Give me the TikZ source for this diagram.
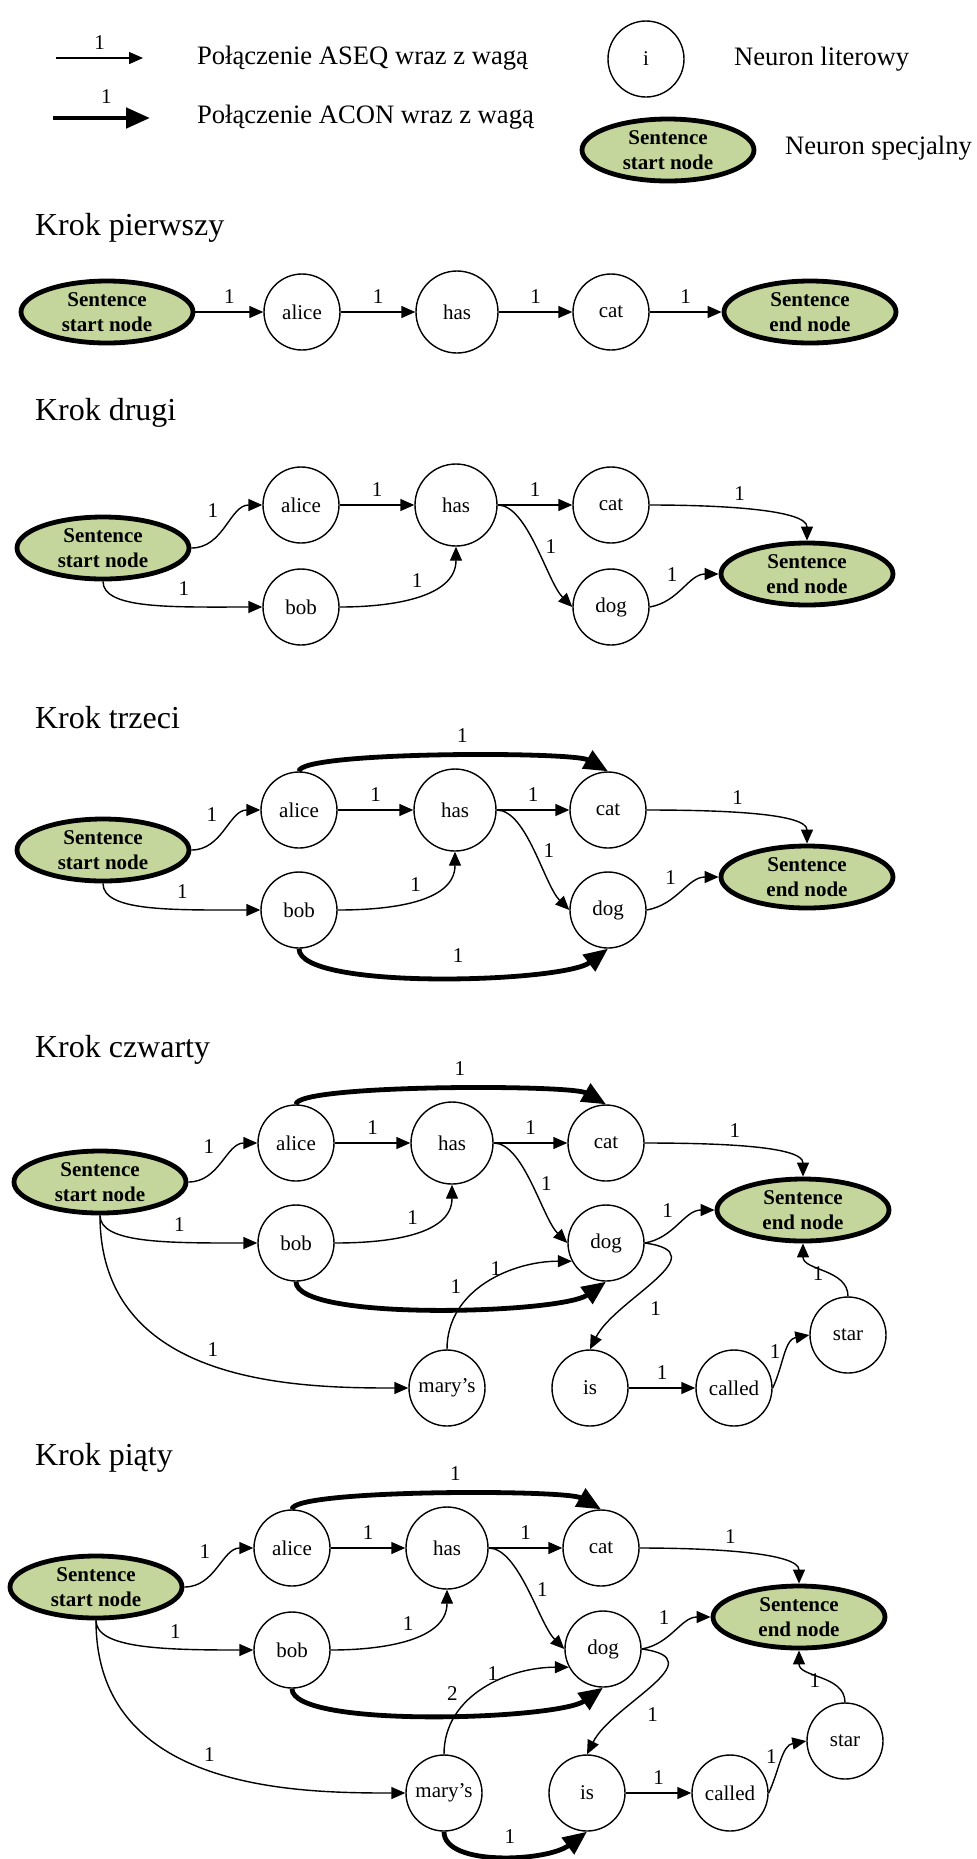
\documentclass[tikz,border=0pt]{standalone}
\usepackage{fontspec}
\setmainfont{Liberation Serif}
\usetikzlibrary{arrows.meta,shapes.geometric}
\definecolor{specfill}{RGB}{196,214,155}
\tikzset{
  neuron/.style={circle, draw, line width=0.7pt, minimum size=38pt, inner sep=0pt,
    font=\fontsize{10.5}{12}\selectfont},
  bigneuron/.style={neuron, minimum size=41pt},
  special/.style={ellipse, draw, line width=2.4pt, fill=specfill, minimum width=86pt,
    minimum height=31pt, inner sep=0pt, align=center,
    font=\bfseries\fontsize{10.5}{12.5}\selectfont},
  aseq/.style={-{Triangle[length=7pt,width=6pt]}, line width=0.7pt},
  acon/.style={-{Triangle[length=12pt,width=10pt]}, line width=2.4pt},
  wlabel/.style={font=\fontsize{10.5}{12}\selectfont, inner sep=1pt},
  krok/.style={anchor=west, font=\fontsize{16}{19}\selectfont},
  legendtext/.style={anchor=west, font=\fontsize{13.3}{16}\selectfont}
}

\begin{document}
\begin{tikzpicture}[x=0.5pt,y=0.5pt]
\useasboundingbox (0,0) rectangle (977,-1859);

% Legend
\coordinate (aseqA) at (56,-58);
\coordinate (aseqB) at (143,-58);
\coordinate (aconA) at (53,-118);
\coordinate (aconB) at (150,-118);
\draw[aseq] (aseqA) -- node[wlabel,above=3pt] {1} (aseqB);
\draw[acon] (aconA) -- node[wlabel,above=5pt,pos=0.55] {1} (aconB);
\node[legendtext] (aseqtext) at (190,-58) {Połączenie ASEQ wraz z wagą};
\node[legendtext] (acontext) at (190,-117) {Połączenie ACON wraz z wagą};
\node[neuron] (legneuron) at (646,-59) {i};
\node[legendtext] (legneurontext) at (727,-59) {Neuron literowy};
\node[special] (legspecial) at (668,-150) {Sentence\\start node};
\node[legendtext] (legspecialtext) at (778,-148) {Neuron specjalny};

% Krok pierwszy
\node[krok] (krok1) at (28,-228) {Krok pierwszy};
\node[special] (s1start) at (107,-312) {Sentence\\start node};
\node[neuron] (s1alice) at (302,-312) {alice};
\node[bigneuron] (s1has) at (457,-312) {has};
\node[neuron] (s1cat) at (611,-312) {cat};
\node[special] (s1end) at (810,-312) {Sentence\\end node};
\draw[aseq] (s1start) -- node[wlabel,above=3pt] {1} (s1alice);
\draw[aseq] (s1alice) -- node[wlabel,above=3pt] {1} (s1has);
\draw[aseq] (s1has) -- node[wlabel,above=3pt] {1} (s1cat);
\draw[aseq] (s1cat) -- node[wlabel,above=3pt] {1} (s1end);

% Krok drugi
\node[krok] (krok2) at (28,-413) {Krok drugi};
\node[special] (s2start) at (103,-548) {Sentence\\start node};
\node[neuron] (s2alice) at (301,-505) {alice};
\node[bigneuron] (s2has) at (456,-505) {has};
\node[neuron] (s2cat) at (611,-505) {cat};
\node[neuron] (s2bob) at (301,-607) {bob};
\node[neuron] (s2dog) at (611,-607) {dog};
\node[special] (s2end) at (807,-574) {Sentence\\end node};
\draw[aseq] (s2start.east) to[out=0,in=180] node[wlabel,above left=3pt] {1} (s2alice.west);
\draw[aseq] (s2start.south) .. controls +(0,-28) and +(-90,0) .. node[wlabel,pos=0.68,above=4pt] {1} (s2bob.west);
\draw[aseq] (s2alice) -- node[wlabel,above=3pt] {1} (s2has);
\draw[aseq] (s2bob.east) to[out=0,in=-90] node[wlabel,above=3pt] {1} (s2has.south);
\draw[aseq] (s2has) -- node[wlabel,above=3pt] {1} (s2cat);
\draw[aseq] (s2has.east) .. controls +(30,0) and +(-25,25) .. node[wlabel,right=3pt] {1} (s2dog.west);
\draw[aseq] (s2cat.east) .. controls +(80,0) and +(0,30) .. node[wlabel,pos=0.4,above=3pt] {1} (s2end.north);
\draw[aseq] (s2dog.east) to[out=10,in=180] node[wlabel,pos=0.5,above left=2pt] {1} (s2end.west);

% Krok trzeci
\node[krok] (krok3) at (28,-718) {Krok trzeci};
\node[special] (s3start) at (103,-850) {Sentence\\start node};
\node[neuron] (s3alice) at (299,-810) {alice};
\node[bigneuron] (s3has) at (455,-810) {has};
\node[neuron] (s3cat) at (608,-810) {cat};
\node[neuron] (s3bob) at (299,-910) {bob};
\node[neuron] (s3dog) at (608,-910) {dog};
\node[special] (s3end) at (807,-877) {Sentence\\end node};
\draw[aseq] (s3start.east) to[out=0,in=180] node[wlabel,above left=3pt] {1} (s3alice.west);
\draw[aseq] (s3start.south) .. controls +(0,-28) and +(-90,0) .. node[wlabel,pos=0.68,above=4pt] {1} (s3bob.west);
\draw[aseq] (s3alice) -- node[wlabel,above=3pt] {1} (s3has);
\draw[aseq] (s3bob.east) to[out=0,in=-90] node[wlabel,above=3pt] {1} (s3has.south);
\draw[aseq] (s3has) -- node[wlabel,above=3pt] {1} (s3cat);
\draw[aseq] (s3has.east) .. controls +(30,0) and +(-25,25) .. node[wlabel,right=3pt] {1} (s3dog.west);
\draw[aseq] (s3cat.east) .. controls +(80,0) and +(0,30) .. node[wlabel,pos=0.4,above=3pt] {1} (s3end.north);
\draw[aseq] (s3dog.east) to[out=10,in=180] node[wlabel,pos=0.5,above left=2pt] {1} (s3end.west);
\draw[acon] (s3alice.north) .. controls +(0,20) and +(-35,20) .. node[wlabel,pos=0.55,above=5pt] {1} (s3cat.north);
\draw[acon] (s3bob.south) .. controls +(0,-42) and +(-45,-34) .. node[wlabel,pos=0.55,above=5pt] {1} (s3dog.south);

% Krok czwarty
\node[krok] (krok4) at (28,-1050) {Krok czwarty};
\node[special] (s4start) at (100,-1182) {Sentence\\start node};
\node[neuron] (s4alice) at (296,-1143) {alice};
\node[bigneuron] (s4has) at (452,-1143) {has};
\node[neuron] (s4cat) at (606,-1143) {cat};
\node[neuron] (s4bob) at (296,-1243) {bob};
\node[neuron] (s4dog) at (606,-1243) {dog};
\node[special] (s4end) at (803,-1210) {Sentence\\end node};
\node[neuron] (s4mary) at (447,-1388) {mary’s};
\node[neuron] (s4is) at (590,-1388) {is};
\node[neuron] (s4called) at (734,-1388) {called};
\node[neuron] (s4star) at (848,-1335) {star};
\draw[aseq] (s4start.east) to[out=0,in=180] node[wlabel,above left=3pt] {1} (s4alice.west);
\draw[aseq] (s4start.south) .. controls +(0,-28) and +(-90,0) .. node[wlabel,pos=0.68,above=4pt] {1} (s4bob.west);
\draw[aseq] (s4start.south) .. controls +(0,-170) and +(-110,0) .. node[wlabel,pos=0.5,above=3pt] {1} (s4mary.west);
\draw[aseq] (s4alice) -- node[wlabel,above=3pt] {1} (s4has);
\draw[aseq] (s4bob.east) to[out=0,in=-90] node[wlabel,above=3pt] {1} (s4has.south);
\draw[aseq] (s4has) -- node[wlabel,above=3pt] {1} (s4cat);
\draw[aseq] (s4has.east) .. controls +(30,0) and +(-25,25) .. node[wlabel,right=3pt] {1} (s4dog.west);
\draw[aseq] (s4cat.east) .. controls +(80,0) and +(0,30) .. node[wlabel,pos=0.4,above=3pt] {1} (s4end.north);
\draw[aseq] (s4dog.east) to[out=10,in=180] node[wlabel,pos=0.5,above left=2pt] {1} (s4end.west);
\draw[acon] (s4alice.north) .. controls +(0,20) and +(-35,20) .. node[wlabel,pos=0.55,above=5pt] {1} (s4cat.north);
\draw[acon] (s4bob.south) .. controls +(0,-40) and +(-45,-32) .. node[wlabel,pos=0.55,above=5pt] {1} (s4dog.south);
\draw[aseq] (s4mary.north) to[out=90,in=180] node[wlabel,pos=0.56,above=0pt] {1} (s4dog.208);
\draw[aseq] (s4dog.east) .. controls +(75,-10) and +(25,50) .. node[wlabel,pos=0.6,below right=3pt] {1} (s4is.north);
\draw[aseq] (s4is) -- node[wlabel,above=3pt] {1} (s4called);
\draw[aseq] (s4called.east) to[out=65,in=190] node[wlabel,pos=0.4,above left=0pt] {1} (s4star.west);
\draw[aseq] (s4star.north) to[out=90,in=-90] node[wlabel,pos=0.4,left=3pt] {1} (s4end.south);

% Krok piaty
\node[krok] (krok5) at (28,-1458) {Krok piąty};
\node[special] (s5start) at (96,-1587) {Sentence\\start node};
\node[neuron] (s5alice) at (292,-1548) {alice};
\node[bigneuron] (s5has) at (447,-1548) {has};
\node[neuron] (s5cat) at (601,-1548) {cat};
\node[neuron] (s5bob) at (292,-1650) {bob};
\node[neuron] (s5dog) at (603,-1649) {dog};
\node[special] (s5end) at (799,-1617) {Sentence\\end node};
\node[neuron] (s5mary) at (444,-1793) {mary’s};
\node[neuron] (s5is) at (587,-1793) {is};
\node[neuron] (s5called) at (730,-1793) {called};
\node[neuron] (s5star) at (845,-1741) {star};
\draw[aseq] (s5start.east) to[out=0,in=180] node[wlabel,above left=3pt] {1} (s5alice.west);
\draw[aseq] (s5start.south) .. controls +(0,-28) and +(-90,0) .. node[wlabel,pos=0.68,above=4pt] {1} (s5bob.west);
\draw[aseq] (s5start.south) .. controls +(0,-170) and +(-110,0) .. node[wlabel,pos=0.5,above=3pt] {1} (s5mary.west);
\draw[aseq] (s5alice) -- node[wlabel,above=3pt] {1} (s5has);
\draw[aseq] (s5bob.east) to[out=0,in=-90] node[wlabel,above=3pt] {1} (s5has.south);
\draw[aseq] (s5has) -- node[wlabel,above=3pt] {1} (s5cat);
\draw[aseq] (s5has.east) .. controls +(30,0) and +(-25,25) .. node[wlabel,right=3pt] {1} (s5dog.west);
\draw[aseq] (s5cat.east) .. controls +(80,0) and +(0,30) .. node[wlabel,pos=0.4,above=3pt] {1} (s5end.north);
\draw[aseq] (s5dog.east) to[out=10,in=180] node[wlabel,pos=0.5,above left=2pt] {1} (s5end.west);
\draw[acon] (s5alice.north) .. controls +(0,20) and +(-35,20) .. node[wlabel,pos=0.55,above=5pt] {1} (s5cat.north);
\draw[acon] (s5bob.south) .. controls +(0,-40) and +(-45,-32) .. node[wlabel,pos=0.55,above=5pt] {2} (s5dog.south);
\draw[aseq] (s5mary.north) to[out=90,in=180] node[wlabel,pos=0.56,above=0pt] {1} (s5dog.208);
\draw[aseq] (s5dog.east) .. controls +(75,-10) and +(25,50) .. node[wlabel,pos=0.6,below right=3pt] {1} (s5is.north);
\draw[aseq] (s5is) -- node[wlabel,above=3pt] {1} (s5called);
\draw[aseq] (s5called.east) to[out=65,in=190] node[wlabel,pos=0.4,above left=0pt] {1} (s5star.west);
\draw[aseq] (s5star.north) to[out=90,in=-90] node[wlabel,pos=0.4,left=3pt] {1} (s5end.south);
\draw[acon] (s5mary.south) .. controls +(0,-35) and +(-40,-30) .. node[wlabel,pos=0.55,above=4pt] {1} (s5is.south);
\end{tikzpicture}
\end{document}
